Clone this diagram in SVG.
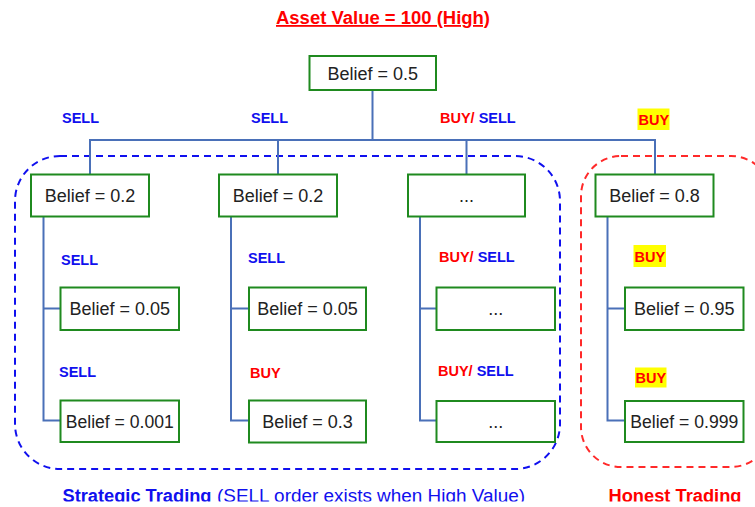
<svg xmlns="http://www.w3.org/2000/svg" width="755" height="507" viewBox="0 0 755 507">
  <defs>
    <style>
      .node rect { fill: #ffffff; stroke: #1f8a1f; stroke-width: 2; }
      .node text { font-family: "Liberation Sans", Arial, sans-serif; font-size: 18px; fill: #222222; text-anchor: middle; }
      .link { fill: none; stroke: #4a70b8; stroke-width: 2; }
      .lbl { font-family: "Liberation Sans", Arial, sans-serif; font-size: 14.5px; font-weight: bold; }
      .sell { fill: #1010ee; }
      .buy { fill: #ff0000; }
      .hl { fill: #ffff00; }
      .group-blue { fill: none; stroke: #1010ee; stroke-width: 2; stroke-dasharray: 7 5; }
      .group-red { fill: none; stroke: #ff2a2a; stroke-width: 2; stroke-dasharray: 7 5; }
      .caption { font-family: "Liberation Sans", Arial, sans-serif; font-size: 18px; }
    </style>
    <clipPath id="pageClip">
      <rect x="0" y="0" width="755" height="501.5"/>
    </clipPath>
  </defs>

  <rect x="0" y="0" width="755" height="507" fill="#ffffff"/>

  <!-- title -->
  <text x="383" y="24" text-anchor="middle" font-family="Liberation Sans, Arial, sans-serif" font-size="18" font-weight="bold" fill="#ff0000" text-decoration="underline" textLength="214" lengthAdjust="spacingAndGlyphs">Asset Value = 100 (High)</text>

  <!-- trading groups -->
  <g id="groups">
    <rect class="group-blue" x="15" y="156" width="545" height="313" rx="45" ry="45"/>
    <rect class="group-red" x="581" y="156" width="190" height="311" rx="40" ry="40"/>
  </g>

  <!-- connectors -->
  <g id="connectors">
    <path class="link" d="M372.5 90 V140 M90 157 V140 H655 V174 M90 140 V174 M278 140 V174 M466.5 140 V174"/>
    <path class="link" d="M43.5 217 V420.5 H60.5 M43.5 308.5 H60.5"/>
    <path class="link" d="M231 217 V420.5 H249 M231 308.5 H249"/>
    <path class="link" d="M420 217 V420.5 H436 M420 308.5 H436"/>
    <path class="link" d="M607.5 217 V420.5 H625 M607.5 308.5 H625"/>
  </g>

  <!-- edge labels -->
  <g id="labels">
    <text class="lbl sell" x="62" y="123">SELL</text>
    <text class="lbl sell" x="251" y="123">SELL</text>
    <text class="lbl" x="440" y="123"><tspan class="buy">BUY/ </tspan><tspan class="sell">SELL</tspan></text>
    <rect class="hl" x="637.5" y="108.5" width="32" height="21.5"/>
    <text class="lbl buy" x="638.5" y="125">BUY</text>

    <text class="lbl sell" x="61" y="265">SELL</text>
    <text class="lbl sell" x="59" y="377">SELL</text>

    <text class="lbl sell" x="248" y="263">SELL</text>
    <text class="lbl buy" x="250" y="378">BUY</text>

    <text class="lbl" x="439" y="262"><tspan class="buy">BUY/ </tspan><tspan class="sell">SELL</tspan></text>
    <text class="lbl" x="438" y="376"><tspan class="buy">BUY/ </tspan><tspan class="sell">SELL</tspan></text>

    <rect class="hl" x="633.5" y="245" width="32.5" height="22"/>
    <text class="lbl buy" x="634.5" y="262">BUY</text>
    <rect class="hl" x="635" y="367.5" width="31.5" height="20"/>
    <text class="lbl buy" x="635.5" y="383">BUY</text>
  </g>

  <!-- root -->
  <g id="n-root" class="node">
    <rect x="309.5" y="56" width="126.5" height="34"/>
    <text x="372.75" y="79.5">Belief = 0.5</text>
  </g>

  <!-- first sell branch -->
  <g id="n-a1" class="node">
    <rect x="31" y="174.5" width="118" height="42"/>
    <text x="90" y="202">Belief = 0.2</text>
  </g>
  <g id="n-a2" class="node">
    <rect x="60.5" y="287.5" width="118.5" height="42.5"/>
    <text x="119.75" y="315">Belief = 0.05</text>
  </g>
  <g id="n-a3" class="node">
    <rect x="60.5" y="400.5" width="118.5" height="41.5"/>
    <text x="119.75" y="427.5" textLength="108" lengthAdjust="spacingAndGlyphs">Belief = 0.001</text>
  </g>

  <!-- second sell branch -->
  <g id="n-b1" class="node">
    <rect x="219" y="174.5" width="118" height="42"/>
    <text x="278" y="202">Belief = 0.2</text>
  </g>
  <g id="n-b2" class="node">
    <rect x="249" y="287.5" width="117" height="42.5"/>
    <text x="307.5" y="315">Belief = 0.05</text>
  </g>
  <g id="n-b3" class="node">
    <rect x="249" y="400.5" width="117" height="42"/>
    <text x="307.5" y="428">Belief = 0.3</text>
  </g>

  <!-- mixed branch -->
  <g id="n-c1" class="node">
    <rect x="408" y="174.5" width="117" height="42"/>
    <text x="466.5" y="202">...</text>
  </g>
  <g id="n-c2" class="node">
    <rect x="436.5" y="287.5" width="118.5" height="42.5"/>
    <text x="495.75" y="315">...</text>
  </g>
  <g id="n-c3" class="node">
    <rect x="436.5" y="401" width="118.5" height="41"/>
    <text x="495.75" y="428">...</text>
  </g>

  <!-- buy branch -->
  <g id="n-d1" class="node">
    <rect x="595.5" y="174.5" width="118" height="42"/>
    <text x="654.5" y="202">Belief = 0.8</text>
  </g>
  <g id="n-d2" class="node">
    <rect x="625" y="287.5" width="118.5" height="42.5"/>
    <text x="684.25" y="315">Belief = 0.95</text>
  </g>
  <g id="n-d3" class="node">
    <rect x="625" y="401" width="118.5" height="41"/>
    <text x="684.25" y="428" textLength="108" lengthAdjust="spacingAndGlyphs">Belief = 0.999</text>
  </g>

  <!-- group captions -->
  <g id="captions" clip-path="url(#pageClip)">
    <text class="caption" x="62.5" y="501.5" fill="#1010ee" font-weight="bold" textLength="149" lengthAdjust="spacingAndGlyphs">Strategic Trading</text>
    <text class="caption" x="217" y="501.5" fill="#1010ee" textLength="308" lengthAdjust="spacingAndGlyphs">(SELL order exists when High Value)</text>
    <text class="caption" x="608.5" y="501.5" fill="#ff0000" font-weight="bold" textLength="133" lengthAdjust="spacingAndGlyphs">Honest Trading</text>
  </g>
</svg>
